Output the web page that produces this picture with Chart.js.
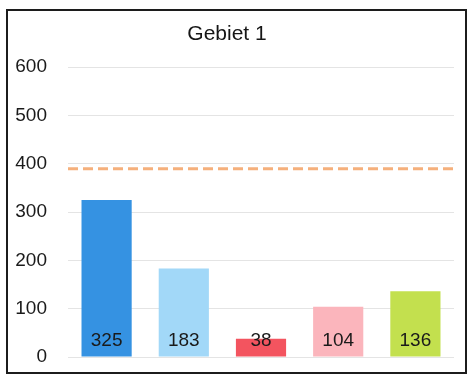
<!DOCTYPE html>
<html>
<head>
<meta charset="utf-8">
<script src="https://cdn.jsdelivr.net/npm/chart.js@4/dist/chart.umd.min.js"></script>
<style>
  html, body { margin: 0; padding: 0; background: #fff; }
  #wrap { width: 467px; height: 376px; }
</style>
</head>
<body>
<div id="wrap"><canvas id="chart" width="467" height="376"></canvas></div>
<script>
const categories = ['A', 'B', 'C', 'D', 'E'];
const values = [325, 183, 38, 104, 136];
const barColors = ['#3592e2', '#a2d8f8', '#f3545f', '#fbb5bc', '#c3e04e'];
const targetValue = 390;
const yTicks = [0, 100, 200, 300, 400, 500, 600];

// white page with a black frame round the whole chart
const framePlugin = {
    id: 'frame',
    beforeDraw(chart) {
        const ctx = chart.ctx;
        ctx.save();
        ctx.fillStyle = '#fff';
        ctx.fillRect(0, 0, chart.width, chart.height);
        ctx.strokeStyle = '#1c1c1c';
        ctx.lineWidth = 2;
        ctx.strokeRect(7, 10, chart.width - 8, chart.height - 13);
        ctx.restore();
    }
};

// dashed target line across the plot area
const targetPlugin = {
    id: 'target',
    afterDatasetsDraw(chart) {
        const ctx = chart.ctx;
        const area = chart.chartArea;
        const y = chart.scales.y.getPixelForValue(targetValue);
        ctx.save();
        ctx.strokeStyle = '#f5b07c';
        ctx.lineWidth = 3;
        ctx.setLineDash([10, 5]);
        ctx.beginPath();
        ctx.moveTo(area.left, y);
        ctx.lineTo(area.right, y);
        ctx.stroke();
        ctx.restore();
    }
};

// value labels near the foot of each bar
const valueLabels = {
    id: 'valueLabels',
    afterDatasetsDraw(chart) {
        const ctx = chart.ctx;
        const meta = chart.getDatasetMeta(0);
        const base = chart.scales.y.getPixelForValue(0);
        ctx.save();
        ctx.font = '19px "Liberation Sans", Arial, sans-serif';
        ctx.fillStyle = '#1a1a1a';
        ctx.textAlign = 'center';
        ctx.textBaseline = 'middle';
        meta.data.forEach((bar, i) => {
            ctx.fillText(String(values[i]), bar.x, base - 16);
        });
        ctx.restore();
    }
};

new Chart(document.getElementById('chart').getContext('2d'), {
    type: 'bar',
    data: {
        labels: categories,
        datasets: [{
            data: values,
            backgroundColor: barColors,
            borderWidth: 0,
            categoryPercentage: 1,
            barPercentage: 0.65
        }]
    },
    options: {
        responsive: false,
        animation: false,
        layout: { padding: { top: 8, left: 0, right: 13, bottom: 19 } },
        plugins: {
            legend: { display: false },
            tooltip: { enabled: false },
            title: {
                display: true,
                text: 'Gebiet 1',
                color: '#161616',
                font: { family: '"Liberation Sans", Arial, sans-serif', size: 21, weight: 'normal' },
                padding: { top: 14, bottom: 20 }
            }
        },
        scales: {
            x: { display: false },
            y: {
                min: 0,
                max: 600,
                afterBuildTicks(scale) {
                    scale.ticks = yTicks.map(v => ({ value: v }));
                },
                afterFit(scale) {
                    scale.width = 68;
                    scale.paddingTop = 0;
                    scale.paddingBottom = 0;
                },
                border: { display: false },
                grid: {
                    color: '#e4e4e4',
                    lineWidth: 1,
                    drawTicks: false
                },
                ticks: {
                    color: '#1a1a1a',
                    padding: 21,
                    font: { family: '"Liberation Sans", Arial, sans-serif', size: 19 }
                }
            }
        }
    },
    plugins: [framePlugin, targetPlugin, valueLabels]
});
</script>
</body>
</html>
